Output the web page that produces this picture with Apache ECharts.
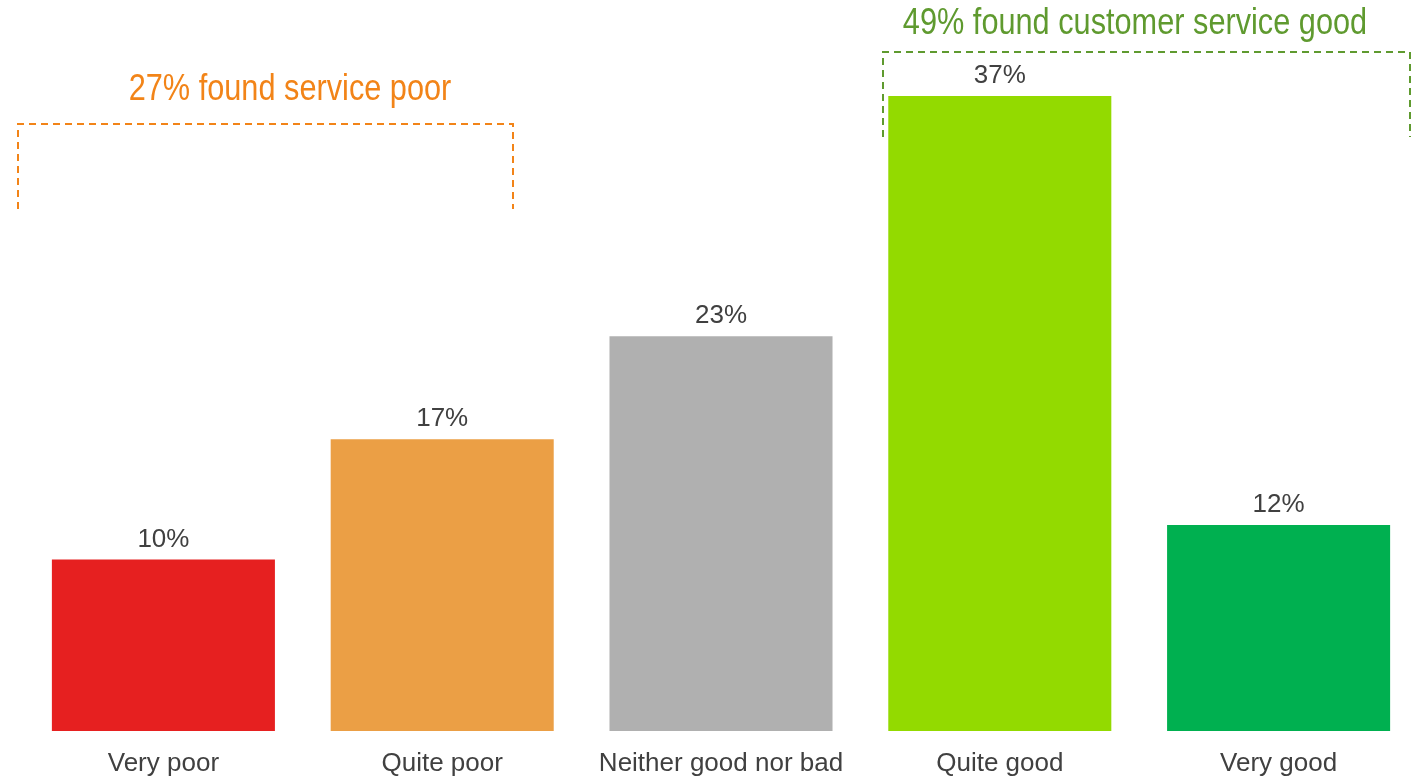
<!DOCTYPE html>
<html>
<head>
<meta charset="utf-8">
<script src="https://cdn.jsdelivr.net/npm/echarts@6/dist/echarts.min.js"></script>
<style>
  html, body { margin: 0; padding: 0; background: #ffffff; }
  #chart { width: 1420px; height: 779px; }
</style>
</head>
<body>
<div id="chart"></div>
<script>
// Ratings of customer service, share of respondents (%)
const categories = ['Very poor', 'Quite poor', 'Neither good nor bad', 'Quite good', 'Very good'];
const shares = [10, 17, 23, 37, 12];
const barColors = ['#E62020', '#EB9F45', '#B0B0B0', '#93DA00', '#00B050'];
const poorNote = '27% found service poor';
const goodNote = '49% found customer service good';

const chart = echarts.init(document.getElementById('chart'));

const sans = "'Liberation Sans', Arial, sans-serif";
const dash = [7, 5];
// condensed look for the bracket headings
const squeeze = 0.853;

chart.setOption({
  animation: false,
  grid: { left: 24, right: 2, top: 44.5, bottom: 48 },
  xAxis: {
    type: 'category',
    data: categories,
    axisLine: { show: false },
    axisTick: { show: false },
    axisLabel: {
      color: '#404040',
      fontSize: 26,
      fontFamily: sans,
      margin: 20,
      interval: 0
    }
  },
  yAxis: {
    type: 'value',
    min: 0,
    max: 40,
    show: false,
    splitLine: { show: false }
  },
  series: [{
    type: 'bar',
    barCategoryGap: '20%',
    data: shares.map((v, i) => ({ value: v, itemStyle: { color: barColors[i] } })),
    label: {
      show: true,
      position: 'top',
      distance: 7,
      formatter: '{c}%',
      color: '#404040',
      fontSize: 26,
      fontFamily: sans
    }
  }],
  graphic: [
    // bracket over the two "poor" bars
    {
      type: 'polyline',
      shape: { points: [[18, 209], [18, 124], [513, 124], [513, 209]] },
      style: { stroke: '#F28418', lineWidth: 2, fill: null, lineDash: dash }
    },
    {
      type: 'text',
      x: 290, y: 90,
      scaleX: squeeze,
      style: {
        text: poorNote,
        fill: '#F28418',
        font: '36px ' + sans,
        textAlign: 'center',
        textVerticalAlign: 'middle'
      }
    },
    // bracket over the two "good" bars
    {
      type: 'polyline',
      shape: { points: [[883, 137], [883, 52], [1410, 52], [1410, 137]] },
      style: { stroke: '#5F9A2F', lineWidth: 2, fill: null, lineDash: dash }
    },
    {
      type: 'text',
      x: 1135, y: 24,
      scaleX: squeeze,
      style: {
        text: goodNote,
        fill: '#5F9A2F',
        font: '36px ' + sans,
        textAlign: 'center',
        textVerticalAlign: 'middle'
      }
    }
  ]
});
</script>
</body>
</html>
